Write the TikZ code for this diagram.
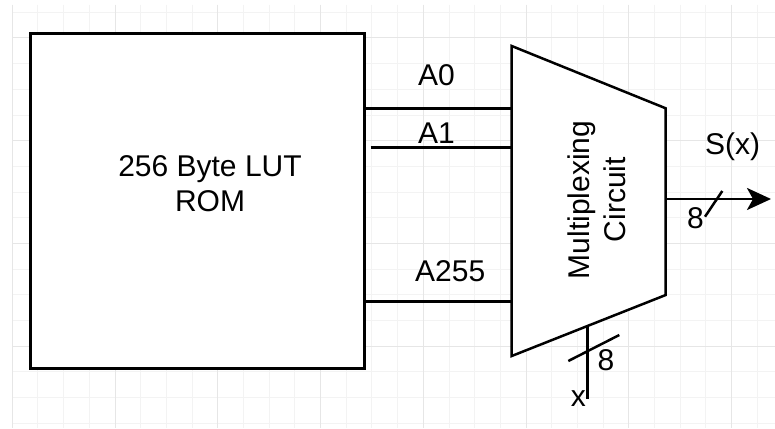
\documentclass[tikz,border=0pt]{standalone}
\usepackage{fontspec}
\setmainfont{Liberation Sans}
\usetikzlibrary{arrows.meta}
\definecolor{gridminor}{HTML}{F3F3F3}
\definecolor{gridmajor}{HTML}{E6E6E6}
\tikzset{
  lbl/.style={font=\fontsize{30}{36}\selectfont, inner sep=0pt, text=black},
  wire/.style={line width=2.5pt, draw=black},
  rombox/.style={draw=black, line width=3pt, fill=white, minimum width=334.3pt,
    minimum height=335pt, inner sep=0pt, outer sep=0pt},
  gminor/.style={draw=gridminor, line width=1pt},
  gmajor/.style={draw=gridmajor, line width=1pt},
  arrowtip/.style={-{Stealth[length=24pt, width=22pt, inset=6pt]}},
}
\begin{document}
\begin{tikzpicture}[x=1pt,y=-1pt]
\useasboundingbox (0,0) rectangle (775,428);
\fill[white] (0,0) rectangle (775,428);
% grid
\foreach \i in {0,...,29} \draw[gminor] (12.3+25.69*\i,5) -- (12.3+25.69*\i,428);
\foreach \j in {0,...,16} \draw[gminor] (12.3,12.3+25.69*\j) -- (775,12.3+25.69*\j);
\foreach \i in {0,4,...,28} \draw[gmajor] (12.3+25.69*\i,5) -- (12.3+25.69*\i,428);
\foreach \j in {1,5,9,13} \draw[gmajor] (12.3,12.3+25.69*\j) -- (775,12.3+25.69*\j);

% ROM
\node[rombox] (rom) at (197.8,200.8) {};
\node[lbl, anchor=base] (romt1) at (210,176) {256 Byte LUT};
\node[lbl, anchor=base] (romt2) at (210,211) {ROM};

% multiplexer
\coordinate (mtl) at (511.7,46);
\coordinate (mtr) at (665.7,108.3);
\coordinate (mbr) at (665.7,295);
\coordinate (mbl) at (511.7,356);
\draw[wire, fill=white, line join=miter] (mtl) -- (mtr) -- (mbr) -- (mbl) -- cycle;
\node[lbl, anchor=base, rotate=90] (mux1) at (589.5,200) {Multiplexing};
\node[lbl, anchor=base, rotate=90] (mux2) at (625.5,199.5) {Circuit};

% inputs
\coordinate (a0in) at (511.7,108.3);
\coordinate (a1in) at (511.7,147.3);
\coordinate (a255in) at (511.7,301.7);
\coordinate (a1out) at (370.7,147.3);
\draw[wire] (rom.east |- a0in) -- (a0in);
\draw[wire] (a1out) -- (a1in);
\draw[wire] (rom.east |- a255in) -- (a255in);
\node[lbl, anchor=base west] (la0) at (418,85) {A0};
\node[lbl, anchor=base west] (la1) at (418,143.3) {A1};
\node[lbl, anchor=base west] (la255) at (415,281.7) {A255};

% output
\coordinate (out) at (665.7,199);
\coordinate (outend) at (771,199);
\draw[wire, arrowtip] (out) -- (outend);
\coordinate (os1) at (705,216.7);
\coordinate (os2) at (722.3,191);
\draw[wire] (os1) -- (os2);
\node[lbl, anchor=base] (lo8) at (695.5,228.5) {8};
\node[lbl, anchor=base] (lsx) at (732.5,154) {S(x)};

% select input
\coordinate (sel) at (587.7,325.9);
\coordinate (selend) at (587.7,399);
\draw[wire] (sel) -- (selend);
\coordinate (ss1) at (568.3,361);
\coordinate (ss2) at (619.3,335);
\draw[wire] (ss1) -- (ss2);
\node[lbl, anchor=base] (ls8) at (606,370) {8};
\node[lbl, anchor=base] (lx) at (578.3,406.5) {x};
\end{tikzpicture}
\end{document}
